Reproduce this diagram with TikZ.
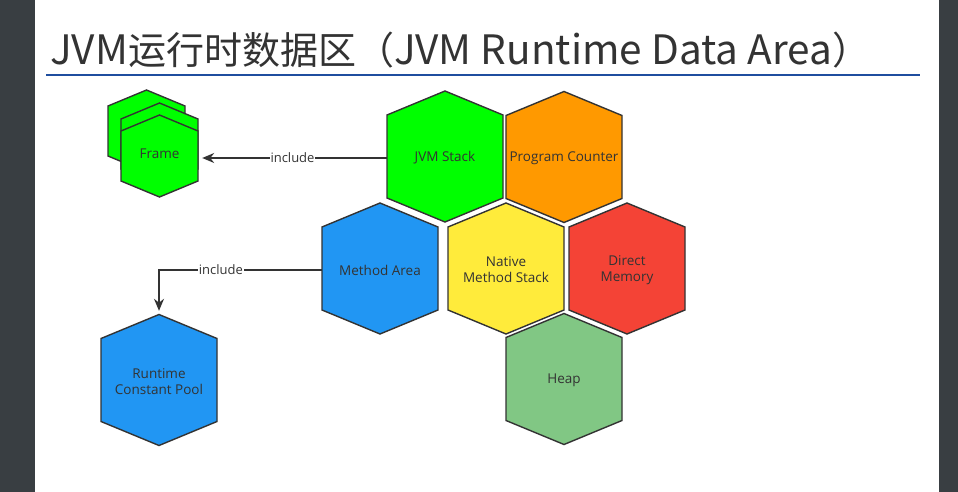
\documentclass[tikz,border=0pt]{standalone}
\usepackage{fontspec}
\setmainfont{Open Sans}
\newfontfamily\cjkfont{Noto Sans CJK SC}
\usetikzlibrary{arrows.meta}
\definecolor{slideDark}{HTML}{393E42}
\definecolor{titleBlue}{HTML}{1F4E9F}
\definecolor{inkGray}{HTML}{333333}
\definecolor{stackGreen}{HTML}{00FF00}
\definecolor{counterOrange}{HTML}{FF9900}
\definecolor{methodBlue}{HTML}{2196F3}
\definecolor{nativeYellow}{HTML}{FFEB3B}
\definecolor{directRed}{HTML}{F44336}
\definecolor{heapGreen}{HTML}{81C784}

% hexagon round a centre: half width, half side, half height
\newcommand{\hexoutline}[4]{%
  (#1) ++(0,-#4) -- ++(#2,#4-#3) -- ++(0,2*#3) -- ++(-#2,#4-#3)
  -- ++(-#2,-#4+#3) -- ++(0,-2*#3) -- cycle}
\newcommand{\hexcell}[4]{%
  \filldraw[hexline, fill=#3] \hexoutline{#2}{58}{41.5}{65.5};
  \node[hexlabel] (#1) at (#2) {#4};}
\newcommand{\latinbig}{\fontsize{40.5}{44}\selectfont}
\newcommand{\hanbig}{\fontsize{38}{44}\selectfont}

\begin{document}
\begin{tikzpicture}[
  x=1pt, y=-1pt,
  hexline/.style={
    draw=inkGray,
    line width=1.4pt,
    line join=miter
  },
  hexlabel/.style={
    minimum width=116pt,
    minimum height=131pt,
    inner sep=0pt,
    yshift=-1.5pt,
    align=center,
    text=inkGray,
    font=\fontsize{13.5}{16}\selectfont
  },
  arrow/.style={
    -{Stealth[length=12pt, width=10pt]},
    draw=inkGray,
    line width=1.4pt
  },
  tag/.style={
    fill=white,
    inner sep=1pt,
    text=inkGray,
    font=\fontsize{13}{15}\selectfont
  }
]

\useasboundingbox (0,0) rectangle (958,492);
\fill[slideDark] (0,0) rectangle (958,492);
\fill[white] (35,0) rectangle (939,492);

\node[anchor=base west, inner sep=0pt, text=inkGray, font=\cjkfont]
  (title) at (50,65)
  {\latinbig JVM\hanbig 运行时数据区（\latinbig JVM Runtime Data Area\hanbig ）};
\draw[titleBlue, line width=2.6pt] (46,75) -- (920,75);

% honeycomb
\hexcell{stack}{445,156.5}{stackGreen}{JVM Stack}
\hexcell{counter}{564,157}{counterOrange}{Program Counter}
\hexcell{method}{380,268.5}{methodBlue}{Method Area}
\hexcell{native}{506,268.5}{nativeYellow}{Native\\Method Stack}
\hexcell{direct}{627,268.5}{directRed}{Direct\\Memory}
\hexcell{heap}{564,379}{heapGreen}{Heap}
\hexcell{pool}{159,380}{methodBlue}{Runtime\\Constant Pool}

% stacked frames
\filldraw[hexline, fill=stackGreen] \hexoutline{146.5,131}{38.5}{25}{41};
\filldraw[hexline, fill=stackGreen] \hexoutline{159.5,144}{38.5}{25}{41};
\filldraw[hexline, fill=stackGreen] \hexoutline{159.5,156}{38.5}{25}{41};
\node[hexlabel, minimum width=77pt, minimum height=82pt] (frame)
  at (159.5,152) {Frame};

\draw[arrow, shorten >=4pt] (stack.west) --
  node[tag] {include} (stack.west -| frame.east);
\draw[arrow, shorten >=5pt] (method.west) -|
  node[tag, pos=0.31] {include} (pool.north);

\end{tikzpicture}
\end{document}
